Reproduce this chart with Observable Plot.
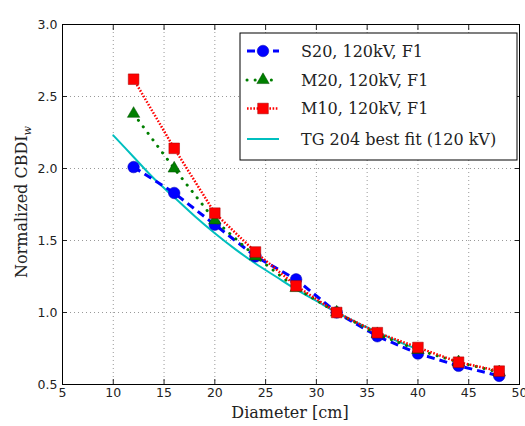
<!DOCTYPE html>
<html><head><meta charset="utf-8">
<script src="https://cdn.jsdelivr.net/npm/d3@7"></script>
<script src="https://cdn.jsdelivr.net/npm/@observablehq/plot@0.6"></script>
<style>body{margin:0;background:#fff}</style>
</head><body><div id="chart"></div>
<script>
const diameters = [12, 16, 20, 24, 28, 32, 36, 40, 44, 48];
const s20 = [2.01, 1.83, 1.61, 1.39, 1.23, 1.00, 0.835, 0.715, 0.63, 0.56];
const m20 = [2.38, 2.00, 1.64, 1.39, 1.17, 1.00, 0.85, 0.74, 0.655, 0.585];
const m10 = [2.62, 2.14, 1.69, 1.42, 1.185, 1.00, 0.86, 0.757, 0.655, 0.593];
const fitDiameters = [10, 12, 14, 16, 18, 20, 22, 24, 26, 28, 30, 32, 34, 36, 38, 40];
const fitValues = [2.23, 2.08, 1.93, 1.80, 1.67, 1.55, 1.44, 1.34, 1.25, 1.16, 1.08, 1.00, 0.93, 0.865, 0.80, 0.745];
const seriesNames = ["S20, 120kV, F1", "M20, 120kV, F1", "M10, 120kV, F1", "TG 204 best fit (120 kV)"];
const xTicks = [5, 10, 15, 20, 25, 30, 35, 40, 45, 50];
const yTicks = [0.5, 1.0, 1.5, 2.0, 2.5, 3.0];
const xLabel = "Diameter [cm]";
const yLabel = "Normalized CBDI";
const yLabelSub = "w";

const colors = ["#0000ff", "#007f00", "#ff0000", "#00bfbf"];
const edge = ["#0000b0", "#004f00", "#a00000"];
const dashes = ["8,5", "0.1,8", "1.6,1.6"];
const widths = [3, 3, 2.5];
const caps = ["butt", "round", "butt"];
const symbols = ["circle", "triangle", "square"];
const radii = [5.8, 4.6, 6];

const sets = [s20, m20, m10];
const rows = sets.map((vals, i) => diameters.map((d, j) => ({d, v: vals[j], s: seriesNames[i]})));
const fitRows = fitDiameters.map((d, j) => ({d, v: fitValues[j]}));

const marks = [
  Plot.gridX(xTicks, {stroke: "#999", strokeOpacity: 1, strokeDasharray: "1,3"}),
  Plot.gridY(yTicks, {stroke: "#999", strokeOpacity: 1, strokeDasharray: "1,3"}),
  Plot.line(fitRows, {x: "d", y: "v", stroke: colors[3], strokeWidth: 2, curve: "catmull-rom"})
];
rows.forEach((r, i) => {
  marks.push(Plot.line(r, {x: "d", y: "v", stroke: colors[i], strokeWidth: widths[i], strokeDasharray: dashes[i], strokeLinecap: caps[i]}));
  marks.push(Plot.dot(r, {x: "d", y: "v", fill: colors[i], stroke: edge[i], strokeWidth: 0.5, symbol: symbols[i], r: radii[i]}));
});
marks.push(
  Plot.axisX(xTicks, {anchor: "bottom", tickSize: -5, tickFormat: () => "", label: null}),
  Plot.axisX(xTicks, {anchor: "top", tickSize: -5, tickFormat: () => "", label: null}),
  Plot.axisY(yTicks, {anchor: "left", tickSize: -5, tickFormat: () => "", label: null}),
  Plot.axisY(yTicks, {anchor: "right", tickSize: -5, tickFormat: () => "", label: null}),
  Plot.axisX(xTicks, {anchor: "bottom", tickSize: 0, tickPadding: 4, tickFormat: d => String(d), label: null, fontSize: 12.5}),
  Plot.axisY(yTicks, {anchor: "left", tickSize: 0, tickPadding: 5, tickFormat: d => d.toFixed(1), label: null, fontSize: 12.5}),
  Plot.frame({stroke: "black", strokeWidth: 1})
);

const plot = Plot.plot({
  width: 525, height: 426,
  marginLeft: 62, marginRight: 6, marginTop: 24, marginBottom: 42,
  x: {domain: [5, 50]},
  y: {domain: [0.5, 3.0]},
  style: {fontFamily: "DejaVu Sans", fontSize: "12px", color: "#222", background: "white", overflow: "visible"},
  marks
});
document.getElementById("chart").append(plot);

const svg = d3.select(plot);
const serif = "DejaVu Serif";
svg.append("text").attr("x", 290).attr("y", 418).attr("text-anchor", "middle")
  .attr("font-family", serif).attr("font-size", 16).attr("fill", "#222").text(xLabel);
const yl = svg.append("text").attr("transform", "translate(27,202) rotate(-90)").attr("text-anchor", "middle")
  .attr("font-family", serif).attr("font-size", 16).attr("fill", "#222");
yl.append("tspan").text(yLabel);
yl.append("tspan").attr("font-size", 11).attr("font-style", "italic").attr("dy", 4).text(yLabelSub);

// legend
const lg = svg.append("g").attr("text-anchor", "start");
lg.append("rect").attr("x", 240).attr("y", 33).attr("width", 277).attr("height", 127)
  .attr("fill", "white").attr("stroke", "black").attr("stroke-width", 1);
const rowY = [51, 80, 108.5, 139];
seriesNames.forEach((name, i) => {
  const y = rowY[i];
  const ln = lg.append("line").attr("x1", 247).attr("x2", 279).attr("y1", y).attr("y2", y)
    .attr("stroke", colors[i]).attr("stroke-width", i < 3 ? widths[i] : 2);
  if (i < 3) {
    ln.attr("stroke-dasharray", dashes[i]).attr("stroke-linecap", caps[i]);
    const sym = i === 0 ? d3.symbolCircle : i === 1 ? d3.symbolTriangle : d3.symbolSquare;
    lg.append("path").attr("d", d3.symbol(sym, Math.PI * radii[i] * radii[i])())
      .attr("transform", `translate(263,${y})`).attr("fill", colors[i]).attr("stroke", edge[i]).attr("stroke-width", 0.5);
  }
  lg.append("text").attr("x", 301).attr("y", y + 5.5).attr("text-anchor", "start").attr("font-family", serif).attr("font-size", 16)
    .attr("fill", "#222").text(name);
});
</script>
</body></html>
